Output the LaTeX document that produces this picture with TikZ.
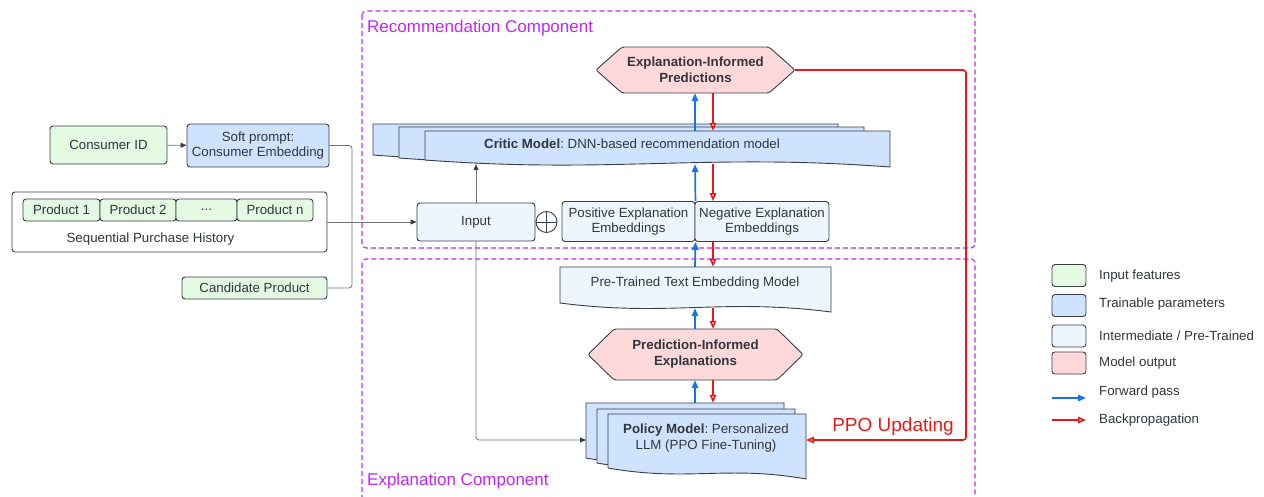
\documentclass[tikz,border=0pt]{standalone}
\usepackage{fontspec}
\setmainfont{Liberation Sans}
\usetikzlibrary{arrows.meta,calc}
\definecolor{ingreen}{RGB}{227,249,225}
\definecolor{trblue}{RGB}{207,227,255}
\definecolor{ltblue}{RGB}{237,245,255}
\definecolor{outpink}{RGB}{255,217,217}
\definecolor{stk}{RGB}{58,62,70}
\definecolor{txt}{RGB}{50,54,62}
\definecolor{glin}{RGB}{110,113,120}
\definecolor{purp}{RGB}{190,40,240}
\definecolor{fwdblue}{RGB}{24,115,230}
\definecolor{bwdred}{RGB}{232,24,24}
\newcommand\DocShape[6]{%
  \filldraw[docs, fill=#1] (#2,#3) -- (#4,#3) -- (#4,#6) .. controls ({#2+0.6*(#4-#2)},{#6-14}) and ({#2+0.4*(#4-#2)},{#5+14}) .. (#2,#5) -- cycle;}
\frenchspacing
\begin{document}
\begin{tikzpicture}[x=1pt,y=-1pt,
  every node/.style={font=\fontsize{13.3}{15.5}\selectfont},
  bx/.style={draw=stk, line width=0.9pt, rounded corners=3pt, align=center, text=txt, inner sep=0pt},
  lbl/.style={align=center, text=txt, inner sep=0pt},
  docs/.style={draw=stk, line width=0.9pt},
  hexs/.style={draw=stk, fill=outpink, line width=0.9pt, rounded corners=2pt},
  gline/.style={draw=glin, line width=0.8pt},
  garr/.style={gline, -{Triangle[length=6pt,width=5pt,color=stk]}},
  fwd/.style={draw=fwdblue, line width=1.7pt, -{Triangle[length=8pt,width=6.5pt]}},
  bwd/.style={draw=bwdred, line width=1.6pt, -{Triangle[open,length=8pt,width=6.5pt,fill=white]}},
  region/.style={draw=purp, line width=1.1pt, dash pattern=on 5pt off 3pt, rounded corners=4pt},
  regionlbl/.style={anchor=west, text=purp, inner sep=0pt, font=\fontsize{17}{20}\selectfont}
]
\useasboundingbox (0,0) rectangle (1264,496);

% regions
\draw[region] (362,11) rectangle (975,248);
\draw[region] (362,259) rectangle (975,502);
\node[regionlbl] (rclbl) at (367,28) {Recommendation Component};
\node[regionlbl] (eclbl) at (367,481) {Explanation Component};

% helper x positions
\coordinate (bx) at (695,0);
\coordinate (rx) at (713,0);

% left inputs
\node[bx, fill=ingreen, minimum width=117pt, minimum height=38pt] (cid) at (108.5,145) {Consumer ID};
\node[bx, fill=trblue, minimum width=142pt, minimum height=43pt] (soft) at (258,145.5) {Soft prompt:\\Consumer Embedding};
\node[bx, fill=white, minimum width=315pt, minimum height=60pt] (seq) at (169.5,222) {};
\node[bx, fill=ingreen, minimum width=77pt, minimum height=22pt] (p1) at (61.5,210) {Product 1};
\node[bx, fill=ingreen, minimum width=76pt, minimum height=22pt] (p2) at (138,210) {Product 2};
\node[bx, fill=ingreen, minimum width=61pt, minimum height=22pt] (pd) at (206.5,210) {...};
\node[bx, fill=ingreen, minimum width=76pt, minimum height=22pt] (pn) at (275,210) {Product n};
\node[lbl] (seqlbl) at (150.5,239) {Sequential Purchase History};
\node[bx, fill=ingreen, minimum width=145pt, minimum height=22pt] (cand) at (254.5,288) {Candidate Product};

\node[bx, fill=ltblue, minimum width=118pt, minimum height=38pt] (inp) at (476,222) {Input};
\coordinate (jn) at (352,222);
\draw[garr] (cid) -- (soft);
\draw[gline, rounded corners=3pt] (soft.east) -| (jn);
\draw[gline, rounded corners=3pt] (cand.east) -| (jn);
\draw[garr] (seq.east) -- (inp.west);

% oplus and explanation embeddings
\node[draw=stk, circle, minimum size=21pt, inner sep=0pt, line width=0.9pt] (oplus) at (546.5,222) {};
\draw[draw=stk, line width=0.9pt] (oplus.north) -- (oplus.south) (oplus.west) -- (oplus.east);
\node[bx, fill=ltblue, minimum width=133pt, minimum height=40pt] (pos) at (628.5,221.5) {Positive Explanation\\Embeddings};
\node[bx, fill=ltblue, minimum width=134pt, minimum height=40pt] (neg) at (762,221.5) {Negative Explanation\\Embeddings};

% critic model stack
\DocShape{trblue}{373}{124}{838}{155}{162}
\DocShape{trblue}{399}{127}{864}{158}{165}
\DocShape{trblue}{425}{131}{890}{160}{167}
\node[minimum width=465pt, minimum height=33pt, inner sep=0pt] (cbox) at (657.5,147.5) {};
\node[lbl] (critic) at (632,144) {\textbf{Critic Model}: DNN-based recommendation model};

% explanation-informed predictions
\draw[hexs] (596,70) -- (622,47) -- (769,47) -- (795,70) -- (769,93) -- (622,93) -- cycle;
\node[lbl, font=\bfseries\fontsize{13.3}{16}\selectfont, minimum width=199pt, minimum height=46pt] (eip) at (695.5,70) {Explanation-Informed\\Predictions};

% pre-trained text embedding model
\DocShape{ltblue}{560}{267}{831}{303}{312}
\node[minimum width=271pt, minimum height=41pt, inner sep=0pt] (ptebox) at (695.5,287.5) {};
\node[lbl] (pte) at (695,283) {Pre-Trained Text Embedding Model};

% prediction-informed explanations
\draw[hexs] (588,354.5) -- (614,329) -- (777,329) -- (803,354.5) -- (777,380) -- (614,380) -- cycle;
\node[lbl, font=\bfseries\fontsize{13.3}{16}\selectfont, minimum width=215pt, minimum height=51pt] (pie) at (695.5,354.5) {Prediction-Informed\\Explanations};

% policy model stack
\DocShape{trblue}{586}{403}{784}{458}{468}
\DocShape{trblue}{597}{409}{795}{463}{474}
\DocShape{trblue}{608}{414}{806}{468}{479}
\node[minimum width=220pt, minimum height=67pt, inner sep=0pt] (polbox) at (696,436.5) {};
\node[lbl] (pol) at (706,438) {\textbf{Policy Model}: Personalized\\LLM (PPO Fine-Tuning)};
\coordinate (polL) at (586,440);
\coordinate (polR) at (806,440);
\coordinate (ppocorner) at (966,440);

% vertical flows
\draw[garr] (inp.north) -- (inp.north |- cbox.south);
\draw[fwd] (cbox.north -| bx) -- (eip.south -| bx);
\draw[bwd] (eip.south -| rx) -- (cbox.north -| rx);
\draw[fwd] (pos.north east) -- (cbox.south -| bx);
\draw[bwd] (cbox.south -| rx) -- (neg.north -| rx);
\draw[fwd] (ptebox.north -| bx) -- (pos.south east);
\draw[bwd] (neg.south -| rx) -- (ptebox.north -| rx);
\draw[fwd] (pie.north -| bx) -- (ptebox.south -| bx);
\draw[bwd] (ptebox.south -| rx) -- (pie.north -| rx);
\draw[fwd] (polbox.north -| bx) -- (pie.south -| bx);
\draw[bwd] (pie.south -| rx) -- (polbox.north -| rx);

% input to policy, PPO loop
\draw[garr, rounded corners=3pt] (inp.south) |- (polL);
\draw[bwd, rounded corners=3pt] (eip.east) -| (ppocorner) -- (polR);
\node[text=bwdred, inner sep=0pt, font=\fontsize{19}{22}\selectfont] (ppo) at (893,427) {PPO Updating};

% legend
\node[bx, fill=ingreen, minimum width=34pt, minimum height=22pt] (lg1) at (1069,275.5) {};
\node[bx, fill=trblue, minimum width=34pt, minimum height=22pt] (lg2) at (1069,305.5) {};
\node[bx, fill=ltblue, minimum width=34pt, minimum height=22pt] (lg3) at (1069,336) {};
\node[bx, fill=outpink, minimum width=34pt, minimum height=22pt] (lg4) at (1069,363) {};
\node[lbl, anchor=west] (lg1t) at (1099,276) {Input features};
\node[lbl, anchor=west] (lg2t) at (1099,304.5) {Trainable parameters};
\node[lbl, anchor=west] (lg3t) at (1099,335.5) {Intermediate / Pre-Trained};
\node[lbl, anchor=west] (lg4t) at (1099,363) {Model output};
\node[lbl, anchor=west] (lg5t) at (1099,392) {Forward pass};
\node[lbl, anchor=west] (lg6t) at (1099,420) {Backpropagation};
\coordinate (lfa) at (1052,398);
\coordinate (lfb) at (1086,398);
\coordinate (lba) at (1052,420);
\coordinate (lbb) at (1086,420);
\draw[fwd] (lfa) -- (lfb);
\draw[bwd] (lba) -- (lbb);
\end{tikzpicture}
\end{document}
